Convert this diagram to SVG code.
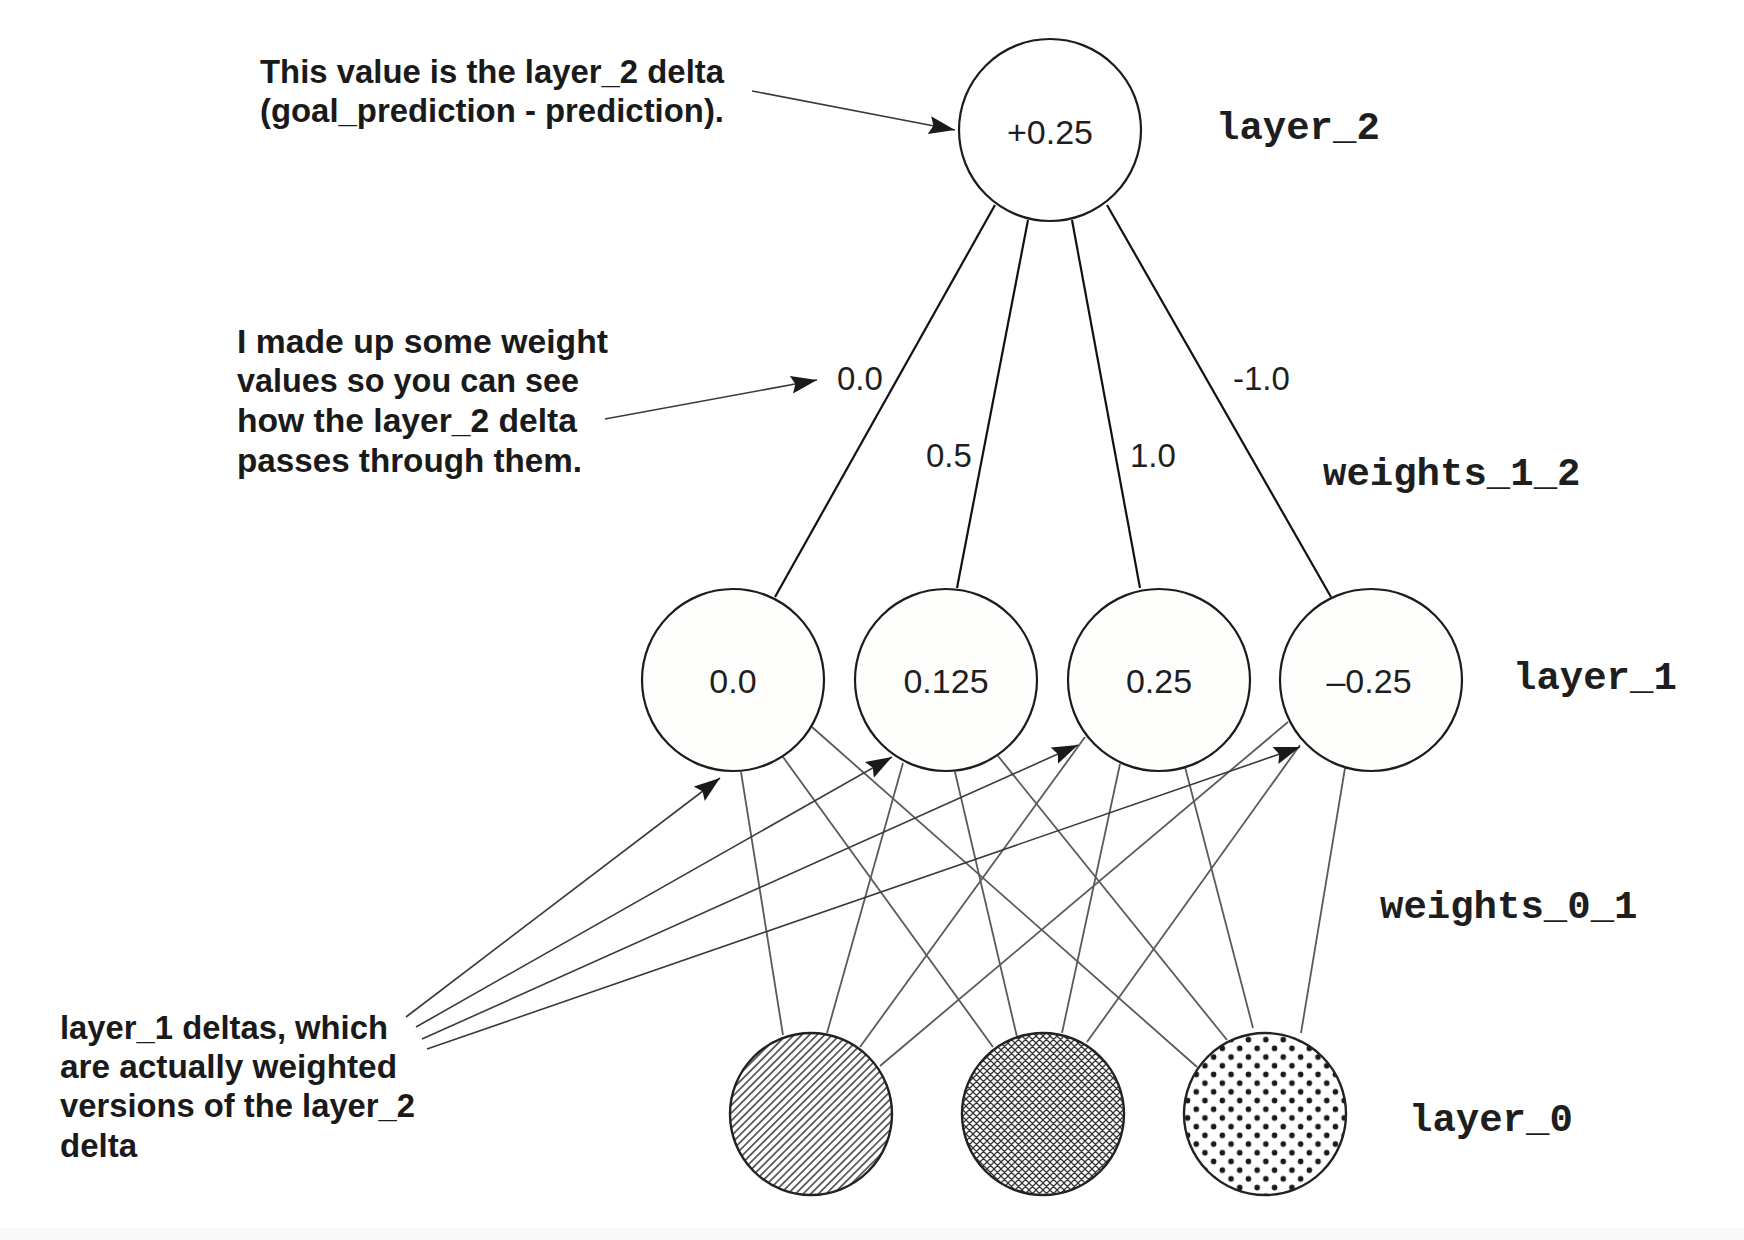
<svg xmlns="http://www.w3.org/2000/svg" width="1744" height="1240" viewBox="0 0 1744 1240">
<style>
.node{stroke:#1c1c1c;stroke-width:2.2;fill:#fefefd}
.w12{stroke:#111;stroke-width:2.2;fill:none}
.w01{stroke:#5a5a5a;stroke-width:1.8;fill:none}
.ann{stroke:#3a3a3a;stroke-width:1.6;fill:none}
.val{font-family:"Liberation Sans",Arial,sans-serif;font-size:34px;fill:#1e1e1e;text-anchor:middle}
.wl{font-family:"Liberation Sans",Arial,sans-serif;font-size:33px;fill:#1e1e1e}
.mono{font-family:"Liberation Mono","Courier New",monospace;font-weight:bold;font-size:39px;fill:#1e1e1e}
.note{font-family:"Liberation Sans",Arial,sans-serif;font-weight:bold;font-size:33px;fill:#1a1a1a}
</style>
<defs>
<marker id="ah" markerUnits="userSpaceOnUse" markerWidth="28" markerHeight="20" refX="26" refY="9" orient="auto">
<path d="M0,0 L26,9 L0,18 L4,9 Z" fill="#1a1a1a"/>
</marker>
<pattern id="hatch" patternUnits="userSpaceOnUse" width="5.4" height="10" patternTransform="rotate(45)">
<line x1="2.7" y1="0" x2="2.7" y2="10" stroke="#3a3a3a" stroke-width="1.5"/>
</pattern>
<pattern id="cross" patternUnits="userSpaceOnUse" width="7" height="7">
<path d="M0,0 L7,7 M7,0 L0,7 M-1,6 L1,8 M6,-1 L8,1 M-1,1 L1,-1 M6,8 L8,6" stroke="#333" stroke-width="1.25" fill="none"/>
</pattern>
<pattern id="dots" patternUnits="userSpaceOnUse" width="17.4" height="17.4">
<circle cx="4.35" cy="4.35" r="2.8" fill="#1a1a1a"/>
<circle cx="13.05" cy="13.05" r="2.8" fill="#1a1a1a"/>
</pattern>
</defs>
<rect x="0" y="0" width="1744" height="1240" fill="#ffffff"/>
<rect x="0" y="1228" width="1744" height="12" fill="#f9f9f9"/>

<g id="connectors">
<line class="w12" x1="995" y1="205" x2="775" y2="597"/>
<line class="w12" x1="1028" y1="220" x2="957" y2="588"/>
<line class="w12" x1="1072" y1="220" x2="1140" y2="588"/>
<line class="w12" x1="1107" y1="205" x2="1331" y2="597"/>
<line class="w01" x1="741" y1="772" x2="783" y2="1035"/>
<line class="w01" x1="783" y1="757" x2="993" y2="1047"/>
<line class="w01" x1="812" y1="727" x2="1197" y2="1067"/>
<line class="w01" x1="903" y1="763" x2="827" y2="1033"/>
<line class="w01" x1="955" y1="772" x2="1017" y2="1037"/>
<line class="w01" x1="998" y1="756" x2="1227" y2="1040"/>
<line class="w01" x1="1085" y1="737" x2="860" y2="1047"/>
<line class="w01" x1="1120" y1="764" x2="1062" y2="1033"/>
<line class="w01" x1="1185" y1="767" x2="1253" y2="1028"/>
<line class="w01" x1="1288" y1="722" x2="880" y2="1066"/>
<line class="w01" x1="1300" y1="745" x2="1087" y2="1042"/>
<line class="w01" x1="1345" y1="768" x2="1301" y2="1033"/>
<text class="wl" x="837" y="390">0.0</text>
<text class="wl" x="926" y="467">0.5</text>
<text class="wl" x="1130" y="467">1.0</text>
<text class="wl" x="1233" y="390">-1.0</text>
</g>

<g id="annotation-arrows">
<line class="ann" x1="752" y1="91" x2="955" y2="130" marker-end="url(#ah)"/>
<line class="ann" x1="605" y1="419" x2="817" y2="380" marker-end="url(#ah)"/>
<line class="ann" x1="406" y1="1017" x2="720" y2="778" marker-end="url(#ah)"/>
<line class="ann" x1="416" y1="1027" x2="892" y2="757" marker-end="url(#ah)"/>
<line class="ann" x1="422" y1="1039" x2="1078" y2="745" marker-end="url(#ah)"/>
<line class="ann" x1="427" y1="1049" x2="1300" y2="747" marker-end="url(#ah)"/>
</g>

<g id="layer2-node">
<circle class="node" cx="1050" cy="130" r="91" style="fill:#ffffff"/>
<text class="val" x="1050" y="144">+0.25</text>
</g>

<g id="layer1-node-0">
<circle class="node" cx="733" cy="680" r="91"/>
<text class="val" x="733" y="693">0.0</text>
</g>
<g id="layer1-node-1">
<circle class="node" cx="946" cy="680" r="91"/>
<text class="val" x="946" y="693">0.125</text>
</g>
<g id="layer1-node-2">
<circle class="node" cx="1159" cy="680" r="91"/>
<text class="val" x="1159" y="693">0.25</text>
</g>
<g id="layer1-node-3">
<circle class="node" cx="1371" cy="680" r="91"/>
<text class="val" x="1369" y="693">–0.25</text>
</g>

<g id="layer0-node-0">
<circle cx="811" cy="1114" r="81" fill="#ffffff"/>
<circle cx="811" cy="1114" r="81" fill="url(#hatch)" stroke="#222" stroke-width="2.4"/>
</g>
<g id="layer0-node-1">
<circle cx="1043" cy="1114" r="81" fill="#ffffff"/>
<circle cx="1043" cy="1114" r="81" fill="url(#cross)" stroke="#222" stroke-width="2.4"/>
</g>
<g id="layer0-node-2">
<circle cx="1265" cy="1114" r="81" fill="#ffffff"/>
<circle cx="1265" cy="1114" r="81" fill="url(#dots)" stroke="#222" stroke-width="2.4"/>
</g>

<g id="layer-labels">
<text class="mono" x="1216" y="139">layer_2</text>
<text class="mono" x="1323" y="485">weights_1_2</text>
<text class="mono" x="1513" y="689">layer_1</text>
<text class="mono" x="1380" y="918">weights_0_1</text>
<text class="mono" x="1409" y="1131">layer_0</text>
</g>

<g id="note-layer2">
<text class="note" x="260" y="83" textLength="464" lengthAdjust="spacingAndGlyphs">This value is the layer_2 delta</text>
<text class="note" x="260" y="122" textLength="464" lengthAdjust="spacingAndGlyphs">(goal_prediction - prediction).</text>
</g>
<g id="note-weights">
<text class="note" x="237" y="353" textLength="371" lengthAdjust="spacingAndGlyphs">I made up some weight</text>
<text class="note" x="237" y="392" textLength="342" lengthAdjust="spacingAndGlyphs">values so you can see</text>
<text class="note" x="237" y="432" textLength="340" lengthAdjust="spacingAndGlyphs">how the layer_2 delta</text>
<text class="note" x="237" y="472" textLength="345" lengthAdjust="spacingAndGlyphs">passes through them.</text>
</g>
<g id="note-layer1">
<text class="note" x="60" y="1039" textLength="328" lengthAdjust="spacingAndGlyphs">layer_1 deltas, which</text>
<text class="note" x="60" y="1078" textLength="337" lengthAdjust="spacingAndGlyphs">are actually weighted</text>
<text class="note" x="60" y="1117" textLength="355" lengthAdjust="spacingAndGlyphs">versions of the layer_2</text>
<text class="note" x="60" y="1157" textLength="77" lengthAdjust="spacingAndGlyphs">delta</text>
</g>
</svg>
